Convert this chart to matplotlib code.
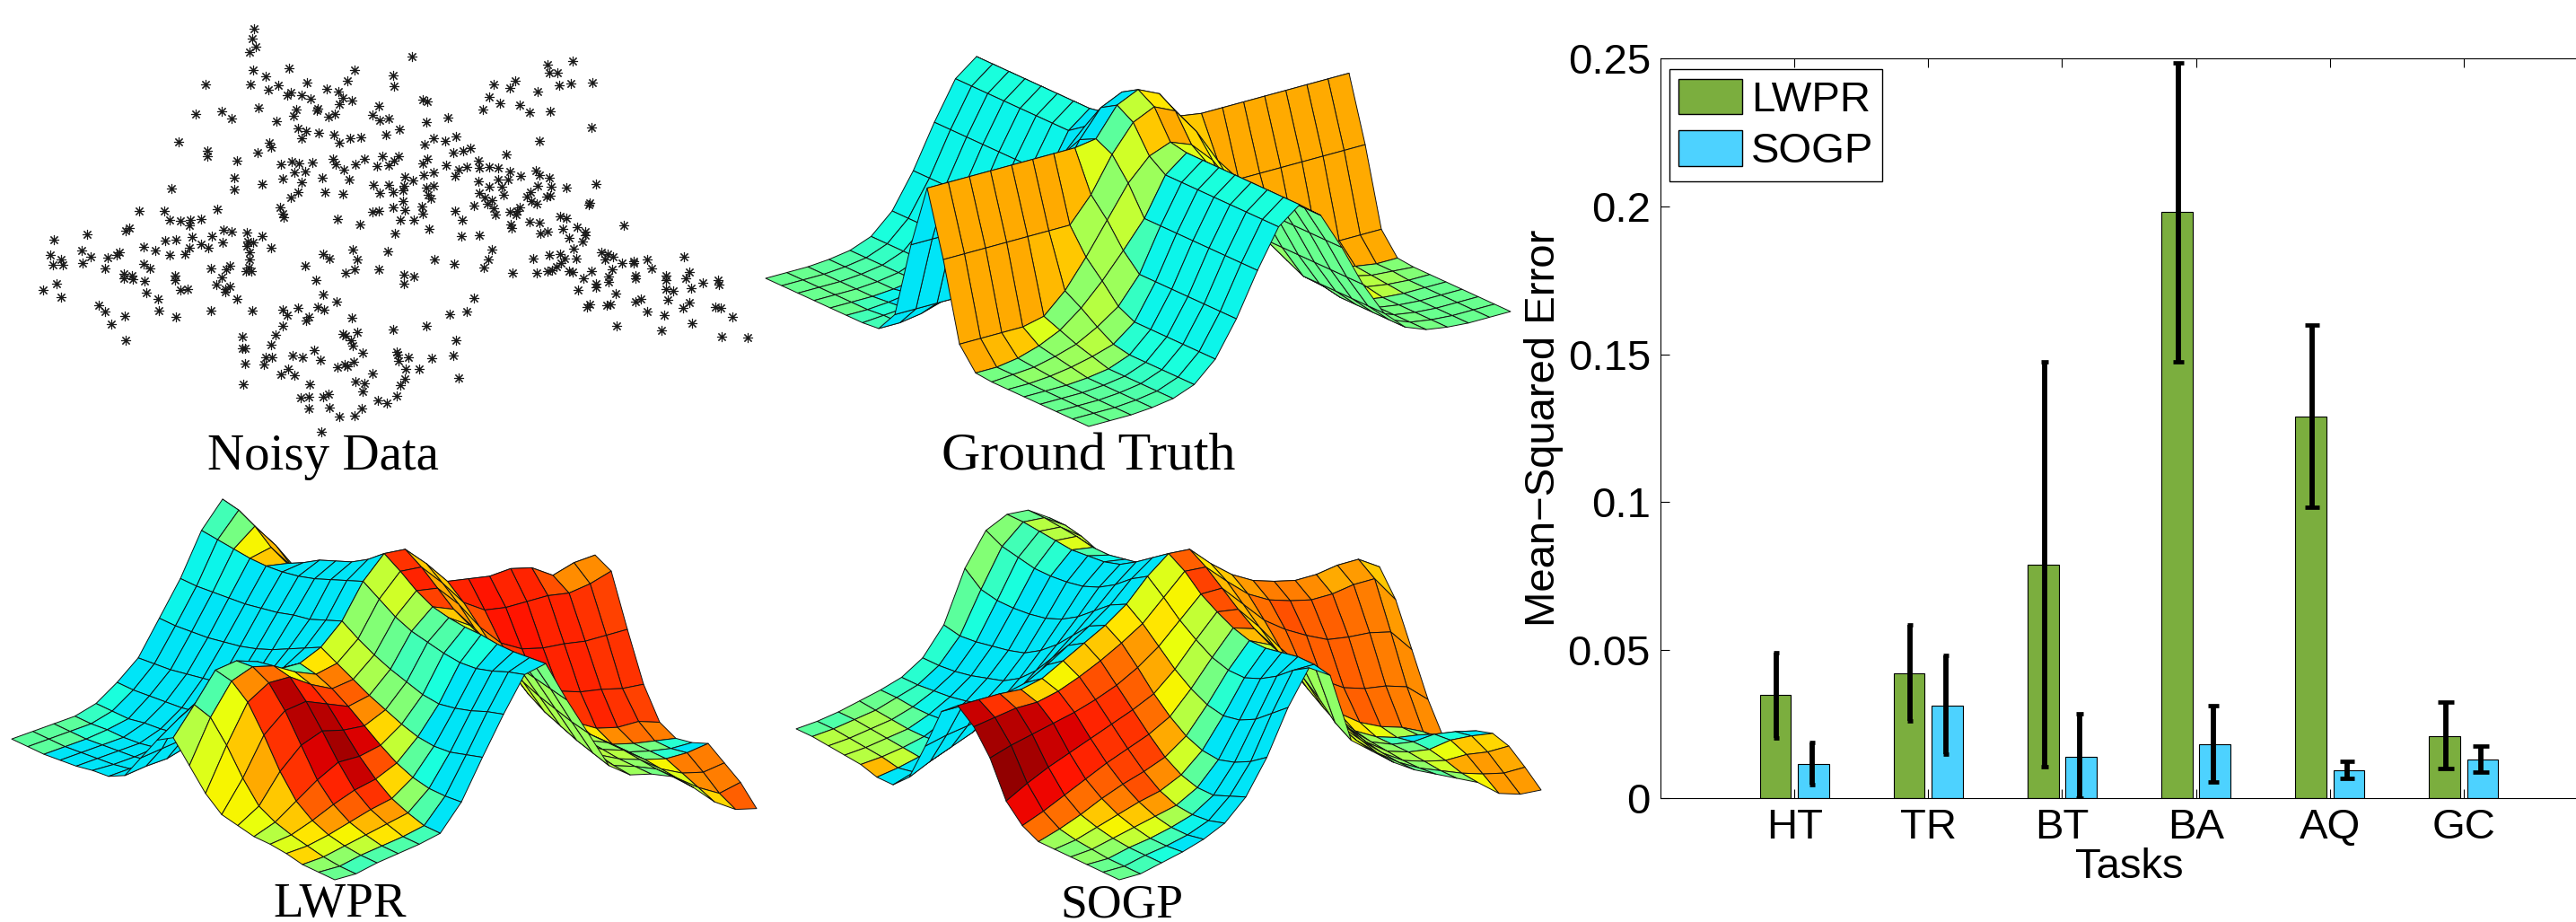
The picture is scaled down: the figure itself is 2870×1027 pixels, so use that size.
import numpy as np
import matplotlib
matplotlib.use('Agg')
import matplotlib.pyplot as plt
from matplotlib.collections import PolyCollection
from matplotlib.patches import Patch

# bar chart values
tasks = ['HT', 'TR', 'BT', 'BA', 'AQ', 'GC']
lwpr_mse = [0.0348, 0.0423, 0.0788, 0.198, 0.129, 0.021]
sogp_mse = [0.0115, 0.0314, 0.0139, 0.0183, 0.0095, 0.0131]
lwpr_low = [0.0204, 0.0262, 0.0105, 0.1475, 0.0983, 0.0099]
lwpr_high = [0.0492, 0.0586, 0.1473, 0.2484, 0.1598, 0.0324]
sogp_low = [0.0044, 0.0149, 0.0, 0.0056, 0.0068, 0.0087]
sogp_high = [0.0187, 0.0483, 0.0284, 0.0312, 0.0123, 0.0177]
cap_sizes = [2.2, 2.2, 3.0, 4.3, 6.0, 6.7]
y_ticks = [0, 0.05, 0.1, 0.15, 0.2, 0.25]
y_labels = ['0', '0.05', '0.1', '0.15', '0.2', '0.25']

# noisy samples
noisy_xy = [(516,92),(513,125),(519,152),(507,167),(836,184),(1164,198),(1112,210),(1115,235),(1133,235),(587,220),(515,226),(721,227),(798,245),(540,246),(1047,262),(706,260),(417,272),(508,272),(566,277),(624,267),(1002,272),(1035,285),(1136,276),(1159,270),(1203,267),(800,280),(545,289),(663,288),(687,295),(1093,296),(590,300),(583,308),(613,308),(631,320),(697,317),(715,326),(994,314),(1015,333),(858,323),(867,329),(690,338),(525,347),(1055,339),(645,350),(770,344),(981,355),(1075,362),(1117,360),(398,370),(451,360),(471,382),(602,353),(597,374),(644,358),(668,378),(680,368),(756,373),(771,390),(789,382),(909,381),(866,394),(562,392),(1202,413),(812,417),(605,415),(622,423),(647,430),(678,437),(612,448),(711,447),(733,445),(784,436),(881,447),(926,441),(905,457),(1095,455),(362,460),(547,463),(550,475),(689,462),(863,468),(422,488),(421,505),(524,493),(921,494),(941,489),(955,478),(1029,498),(482,521),(571,530),(593,524),(608,528),(635,525),(677,515),(682,530),(722,530),(740,515),(765,537),(777,506),(789,535),(800,520),(810,505),(868,513),(858,528),(971,520),(699,548),(598,558),(619,554),(575,578),(476,575),(655,574),(710,582),(906,535),(932,549),(948,540),(974,543),(994,540),(1012,543),(880,558),(860,567),(925,570),(822,572),(838,585),(1036,555),(1058,570),(1088,553),(1096,565),(1116,575),(1011,580),(1032,580),(972,588),(532,595),(613,590),(758,597),(790,598),(820,600),(880,600),(1092,602),(1120,605),(1151,608),(1210,595),(349,611),(476,613),(605,622),(660,620),(697,628),(772,624),(799,622),(819,617),(866,606),(993,605),(1020,605),(1078,620),(973,625),(1022,630),(1070,635),(1118,632),(1110,635),(590,640),(870,630),(875,642),(985,640),(1000,647),(819,650),(1080,650),(1197,657),(1196,663),(1090,660),(568,670),(441,676),(282,681),(333,681),(798,671),(857,668),(963,664),(990,660),(756,685),(769,682),(822,680),(924,682),(1002,675),(1036,685),(1050,682),(1056,672),(575,690),(576,702),(858,690),(1006,693),(1048,695),(685,708),(345,712),(367,715),(387,710),(409,708),(813,710),(840,712),(939,710),(1138,701),(1150,705),(1076,716),(1096,719),(732,727),(1037,725),(1267,730),(385,730),(263,737),(256,745),(871,739),(1039,737),(1172,735),(454,742),(470,750),(1144,741),(176,757),(502,752),(533,765),(802,756),(937,764),(973,761),(1098,755),(1113,750),(1188,748),(1188,760),(1156,770),(110,774),(391,767),(336,778),(358,774),(430,765),(503,780),(514,785),(1183,780),(452,783),(409,790),(502,795),(291,799),(384,801),(423,802),(550,800),(166,811),(315,810),(243,817),(375,822),(345,825),(716,807),(787,813),(1000,808),(1165,805),(1222,817),(1234,822),(1245,830),(1389,831),(102,826),(184,830),(218,833),(237,824),(507,815),(657,823),(669,835),(1116,824),(1138,822),(124,838),(725,840),(883,839),(992,838),(1083,837),(1146,835),(1171,835),(1228,840),(1288,846),(1314,838),(168,851),(108,858),(128,858),(292,855),(506,840),(620,860),(922,855),(1263,850),(1140,850),(1288,852),(214,868),(304,868),(429,869),(467,860),(460,872),(983,864),(770,870),(505,865),(720,872),(1323,869),(1243,870),(1130,862),(1091,882),(1112,878),(1122,875),(1156,878),(1164,880),(1202,878),(1041,882),(499,878),(510,878),(702,883),(251,885),(268,890),(1400,880),(820,888),(840,895),(1185,900),(1237,895),(1290,890),(1291,900),(1352,890),(1393,900),(1353,905),(270,903),(252,900),(355,890),(356,905),(450,897),(294,909),(642,907),(1458,905),(1237,912),(1428,916),(115,918),(820,918),(1210,918),(1461,920),(440,920),(458,935),(467,926),(1210,930),(1353,935),(1368,940),(1403,933),(88,938),(366,937),(381,936),(1175,938),(457,945),(298,948),(656,951),(1250,950),(124,960),(962,963),(321,967),(482,967),(1357,970),(1302,968),(1290,977),(684,977),(200,988),(1197,985),(1192,994),(1240,984),(1232,987),(1400,980),(605,995),(645,993),(1387,995),(1453,992),(1464,997),(214,1007),(323,1005),(429,1005),(513,1006),(575,1002),(658,1003),(948,1008),(1315,1008),(583,1020),(913,1017),(1350,1018),(1487,1024),(254,1023),(358,1025),(628,1025),(622,1037),(714,1029),(226,1047),(574,1054),(1406,1045),(1252,1055),(866,1055),(798,1067),(1344,1070),(726,1073),(560,1082),(697,1080),(702,1086),(492,1090),(1466,1088),(1518,1091),(255,1101),(927,1100),(712,1100),(498,1126),(492,1126),(550,1115),(716,1118),(639,1132),(806,1138),(808,1148),(737,1140),(921,1149),(595,1150),(614,1155),(539,1155),(552,1155),(830,1157),(877,1160),(651,1165),(809,1168),(718,1170),(497,1177),(536,1180),(700,1180),(685,1187),(706,1185),(825,1192),(851,1193),(585,1192),(570,1210),(598,1213),(757,1207),(931,1222),(822,1225),(722,1233),(740,1240),(814,1247),(494,1243),(629,1243),(737,1266),(806,1280),(611,1285),(628,1283),(657,1282),(667,1275),(767,1295),(785,1303),(735,1320),(628,1322),(669,1317),(689,1347),(721,1345),(652,1397)]

# surface heights, rows along the front-right edge, columns along the front-left edge
truth_z = np.array([
 [0,0,0,0,0,0,0,.01,.14,.61,1,.61,.14,.01,0,0,0,0,0,0,0],
 [0,0,0,0,0,0,.01,.01,.14,.61,1,.61,.14,.01,.01,0,0,0,0,0,0],
 [0,0,0,0,0,.01,.02,.03,.14,.61,1,.61,.14,.03,.02,.01,0,0,0,0,0],
 [.01,.01,.01,.01,.01,.03,.05,.07,.14,.61,1,.61,.14,.07,.05,.03,.01,.01,.01,.01,.01],
 [.03,.03,.03,.03,.03,.06,.09,.13,.17,.61,1,.61,.17,.13,.09,.06,.03,.03,.03,.03,.03],
 [.08,.08,.08,.08,.08,.1,.16,.23,.29,.61,1,.61,.29,.23,.16,.1,.08,.08,.08,.08,.08],
 [.2,.2,.2,.2,.2,.2,.25,.36,.46,.61,1,.61,.46,.36,.25,.2,.2,.2,.2,.2,.2],
 [.41,.41,.41,.41,.41,.41,.41,.51,.65,.76,1,.76,.65,.51,.41,.41,.41,.41,.41,.41,.41],
 [.67,.67,.67,.67,.67,.67,.67,.67,.84,.97,1.02,.97,.84,.67,.67,.67,.67,.67,.67,.67,.67],
 [.9,.9,.9,.9,.9,.9,.9,.9,.97,1.13,1.19,1.13,.97,.9,.9,.9,.9,.9,.9,.9,.9],
 [1,1,1,1,1,1,1,1,1.02,1.19,1.25,1.19,1.02,1,1,1,1,1,1,1,1],
 [.9,.9,.9,.9,.9,.9,.9,.9,.97,1.13,1.19,1.13,.97,.9,.9,.9,.9,.9,.9,.9,.9],
 [.67,.67,.67,.67,.67,.67,.67,.67,.84,.97,1.02,.97,.84,.67,.67,.67,.67,.67,.67,.67,.67],
 [.41,.41,.41,.41,.41,.41,.41,.51,.65,.76,1,.76,.65,.51,.41,.41,.41,.41,.41,.41,.41],
 [.2,.2,.2,.2,.2,.2,.25,.36,.46,.61,1,.61,.46,.36,.25,.2,.2,.2,.2,.2,.2],
 [.08,.08,.08,.08,.08,.1,.16,.23,.29,.61,1,.61,.29,.23,.16,.1,.08,.08,.08,.08,.08],
 [.03,.03,.03,.03,.03,.06,.09,.13,.17,.61,1,.61,.17,.13,.09,.06,.03,.03,.03,.03,.03],
 [.01,.01,.01,.01,.01,.03,.05,.07,.14,.61,1,.61,.14,.07,.05,.03,.01,.01,.01,.01,.01],
 [0,0,0,0,0,.01,.02,.03,.14,.61,1,.61,.14,.03,.02,.01,0,0,0,0,0],
 [0,0,0,0,0,0,.01,.01,.14,.61,1,.61,.14,.01,.01,0,0,0,0,0,0],
 [0,0,0,0,0,0,0,.01,.14,.61,1,.61,.14,.01,0,0,0,0,0,0,0]])

lwpr_z = np.array([
 [0,0,0,.02,.03,.03,.05,.07,.15,.27,.39,.33,.18,.03,-.02,-.03,-.05,-.06,-.07,-.07,-.07],
 [0,0,.01,.03,.05,.08,.13,.25,.4,.52,.55,.42,.2,.05,-.01,-.03,-.04,-.05,-.06,-.06,-.06],
 [.03,.03,.04,.06,.1,.17,.3,.47,.62,.7,.72,.5,.22,.06,0,-.02,-.03,-.04,-.05,-.05,-.05],
 [.05,.05,.07,.1,.16,.26,.42,.58,.7,.75,.74,.52,.25,.1,.03,0,-.02,-.03,-.03,-.04,-.04],
 [.07,.07,.1,.14,.21,.33,.47,.6,.7,.72,.7,.52,.3,.16,.08,.05,.03,.02,0,0,0],
 [.1,.1,.13,.17,.24,.33,.44,.55,.62,.65,.62,.5,.36,.25,.18,.14,.12,.11,.1,.09,.09],
 [.25,.24,.24,.26,.3,.36,.43,.5,.56,.6,.62,.55,.46,.38,.32,.28,.26,.24,.22,.21,.2],
 [.48,.45,.42,.41,.42,.45,.49,.53,.58,.63,.68,.63,.58,.53,.49,.46,.44,.42,.41,.4,.4],
 [.7,.67,.63,.6,.58,.59,.62,.65,.69,.74,.8,.76,.72,.7,.67,.65,.63,.62,.61,.6,.6],
 [.9,.87,.83,.8,.79,.8,.82,.84,.88,.94,1,.96,.92,.88,.85,.83,.82,.82,.83,.84,.85],
 [.93,.92,.91,.91,.92,.92,.93,.95,1,1.07,1.13,1.05,.99,.95,.91,.85,.8,.85,.93,.98,1],
 [.68,.7,.72,.74,.77,.8,.85,.9,.98,1.06,1.12,1.03,.9,.78,.7,.66,.66,.7,.78,.82,.85],
 [.45,.47,.5,.53,.57,.62,.68,.75,.85,.93,1,.9,.75,.6,.52,.5,.5,.55,.6,.65,.68],
 [.22,.25,.28,.32,.36,.42,.5,.58,.68,.78,.86,.75,.55,.38,.32,.3,.32,.36,.4,.46,.5],
 [.13,.14,.16,.18,.22,.26,.32,.42,.55,.7,.84,.68,.42,.25,.18,.17,.18,.2,.24,.28,.3],
 [.1,.1,.1,.11,.12,.14,.18,.3,.48,.68,.82,.62,.32,.15,.1,.08,.08,.1,.12,.14,.15],
 [.05,.05,.06,.07,.07,.07,.1,.24,.45,.68,.83,.6,.28,.09,.05,.03,.03,.04,.05,.05,.05],
 [-.05,-.04,-.03,-.02,-.02,-.02,.03,.2,.44,.68,.8,.58,.25,.06,0,-.01,-.01,-.01,0,0,0],
 [-.17,-.13,-.09,-.05,-.05,-.05,0,.18,.42,.66,.72,.52,.2,.03,-.03,-.04,-.04,-.04,-.05,-.05,-.05],
 [-.25,-.2,-.12,-.05,-.07,-.07,0,.15,.42,.68,.76,.55,.22,.03,-.04,-.06,-.07,-.08,-.09,-.1,-.1],
 [-.28,-.17,-.1,-.03,-.07,-.09,-.04,.14,.42,.72,.77,.5,.15,-.02,-.07,-.09,-.1,-.1,-.1,-.1,-.1]])

sogp_z = np.array([
 [0,0,0,0,0,0,.05,.15,.36,.5,.58,.5,.25,.02,-.07,-.07,-.04,-.03,-.02,-.01,-.01],
 [0,0,0,.01,.02,.04,.1,.22,.4,.52,.58,.5,.28,.08,-.03,-.05,-.03,-.02,-.01,0,0],
 [.03,.03,.03,.04,.06,.09,.16,.28,.43,.54,.58,.5,.3,.13,.02,-.02,-.01,0,.01,.02,.02],
 [.06,.05,.05,.07,.1,.15,.22,.33,.46,.54,.57,.5,.33,.18,.08,.03,.02,.02,.03,.04,.05],
 [.1,.08,.08,.1,.14,.2,.28,.38,.49,.57,.6,.53,.38,.25,.15,.1,.08,.07,.07,.08,.08],
 [.16,.13,.12,.13,.17,.24,.33,.43,.53,.62,.67,.6,.46,.34,.24,.19,.16,.14,.13,.12,.12],
 [.28,.24,.2,.2,.23,.29,.38,.48,.58,.68,.74,.68,.56,.44,.35,.29,.26,.23,.21,.2,.2],
 [.48,.41,.36,.33,.34,.38,.45,.54,.65,.75,.81,.76,.66,.56,.48,.42,.39,.37,.35,.34,.36],
 [.74,.66,.58,.53,.51,.53,.58,.65,.74,.83,.9,.85,.77,.69,.63,.59,.57,.56,.56,.58,.66],
 [.94,.88,.8,.74,.7,.7,.73,.79,.86,.95,1.03,.97,.89,.83,.79,.77,.76,.76,.78,.8,.85],
 [.86,.88,.88,.86,.84,.84,.87,.92,.98,1.07,1.13,1.06,.99,.93,.9,.89,.88,.89,.9,.91,.91],
 [.44,.5,.6,.68,.74,.78,.83,.9,.98,1.06,1.12,1.04,.96,.9,.88,.86,.86,.88,.89,.9,.9],
 [.34,.36,.4,.46,.53,.6,.68,.76,.85,.94,1,.93,.84,.78,.75,.74,.74,.76,.8,.82,.82],
 [.24,.25,.28,.32,.37,.43,.5,.6,.72,.83,.9,.82,.68,.58,.55,.53,.54,.56,.58,.6,.61],
 [.16,.16,.17,.19,.22,.26,.33,.46,.63,.76,.83,.74,.55,.4,.35,.33,.33,.36,.38,.4,.42],
 [.1,.09,.09,.1,.11,.13,.19,.34,.56,.72,.79,.67,.42,.24,.18,.16,.16,.18,.2,.22,.23],
 [.04,.04,.05,.06,.06,.06,.1,.26,.5,.69,.76,.62,.34,.13,.08,.06,.06,.07,.08,.09,.1],
 [-.02,-.01,.02,.04,.04,.02,.04,.22,.48,.69,.76,.6,.3,.08,.02,0,0,.01,.02,.03,.03],
 [-.12,-.05,.02,.06,.05,0,0,.2,.47,.71,.78,.6,.28,.05,-.02,-.03,-.03,-.02,-.02,-.01,-.01],
 [-.16,-.08,0,.05,.03,-.06,-.06,.16,.44,.71,.78,.59,.26,.02,-.04,-.05,-.05,-.05,-.04,-.04,-.04],
 [-.17,-.08,0,.03,0,-.1,-.14,.05,.3,.55,.7,.55,.22,0,-.06,-.07,-.07,-.06,-.06,-.06,-.06]])

W, H = 2870, 1027


def draw_surface(ax, z, front, vec_a, vec_b, z_scale, red_near, red_far):
    # oblique view, painted from the back corner to the front corner
    n = z.shape[0] - 1
    i, j = np.meshgrid(np.arange(n + 1), np.arange(n + 1), indexing='ij')
    sx = front[0] + vec_a[0] * i / n + vec_b[0] * j / n
    sy = front[1] + vec_a[1] * i / n + vec_b[1] * j / n - z_scale * z
    polys, shades = [], []
    for p in range(n - 1, -1, -1):
        for q in range(n - 1, -1, -1):
            polys.append([(sx[p, q], sy[p, q]), (sx[p + 1, q], sy[p + 1, q]),
                          (sx[p + 1, q + 1], sy[p + 1, q + 1]), (sx[p, q + 1], sy[p, q + 1])])
            da = (z[p + 1, q] + z[p + 1, q + 1] - z[p, q] - z[p, q + 1]) * n / 2
            db = (z[p, q + 1] + z[p + 1, q + 1] - z[p, q] - z[p + 1, q]) * n / 2
            norm = np.sqrt(da ** 2 + db ** 2 + 1)
            gain = red_near + (red_far - red_near) * p / n
            shades.append(0.41 - 0.06 * da / norm + gain * db / norm + 0.06 / norm)
    shades = np.clip(shades, 0.345, 1.0)
    pc = PolyCollection(polys, facecolors=plt.get_cmap('jet', 64)(shades), edgecolors='#111111', linewidths=0.7)
    ax.add_collection(pc)


fig = plt.figure(figsize=(W / 100, H / 100), dpi=100)

# full size axes for the surfaces and their captions
ax_bg = fig.add_axes([0, 0, 1, 1])
ax_bg.set_xlim(0, W)
ax_bg.set_ylim(H, 0)
ax_bg.axis('off')
draw_surface(ax_bg, truth_z, (1213, 475), (470, -128), (-360, -165), 183, 0.31, 0.31)
draw_surface(ax_bg, lwpr_z, (373, 980), (470, -132), (-360, -170), 188, 0.6, 0.42)
draw_surface(ax_bg, sogp_z, (1247, 980), (470, -132), (-360, -170), 188, 0.6, 0.33)

caption = dict(family='Liberation Serif', ha='center', va='baseline', color='black')
ax_bg.text(360, 523, 'Noisy Data', fontsize=41, **caption)
ax_bg.text(1213, 523, 'Ground Truth', fontsize=43, **caption)
ax_bg.text(379, 1021, 'LWPR', fontsize=39.5, **caption)
ax_bg.text(1250, 1021, 'SOGP', fontsize=38.5, **caption)

# noisy samples
ax_pts = fig.add_axes([0, 1 - 540 / H, 860 / W, 540 / H])
ax_pts.patch.set_alpha(0)
ax_pts.set_xlim(0, 1568)
ax_pts.set_ylim(1568, 0)
ax_pts.axis('off')
noisy_x, noisy_y = zip(*noisy_xy)
ax_pts.plot(noisy_x, noisy_y, ls='none', marker=(8, 2, 0), ms=8, mew=0.8, color='#1a1a1a')

# bar chart, runs off the right of the picture like the original
ax = fig.add_axes([1850 / W, 1 - 889 / H, 1044 / W, 824 / H])
ax.patch.set_alpha(0)
x = np.arange(1, len(tasks) + 1)
ax.bar(x - 0.142, lwpr_mse, 0.233, color='#7BAE3E', edgecolor='black', linewidth=0.8)
ax.bar(x + 0.142, sogp_mse, 0.233, color='#4DD2FF', edgecolor='black', linewidth=0.8)
for k in range(len(tasks)):
    ax.errorbar(x[k] - 0.133, lwpr_mse[k], yerr=[[lwpr_mse[k] - lwpr_low[k]], [lwpr_high[k] - lwpr_mse[k]]],
                color='black', lw=4.2, capsize=cap_sizes[k], capthick=3.4)
    ax.errorbar(x[k] + 0.13, sogp_mse[k], yerr=[[sogp_mse[k] - sogp_low[k]], [sogp_high[k] - sogp_mse[k]]],
                color='black', lw=4.2, capsize=cap_sizes[k], capthick=3.4)
ax.set_xlim(0, 7)
ax.set_ylim(0, 0.25)
ax.set_xticks(x)
ax.set_xticklabels(tasks)
ax.set_yticks(y_ticks)
ax.set_yticklabels(y_labels)
ax.tick_params(direction='in', top=True, right=True, length=7, width=0.8, labelsize=34, pad=8)
for t in ax.get_xticklabels() + ax.get_yticklabels():
    t.set_family('Liberation Sans')
ax.set_xlabel('Tasks', family='Liberation Sans', fontsize=34, labelpad=0)
ax.set_ylabel('Mean\u2212Squared Error', family='Liberation Sans', fontsize=34, labelpad=3)
ax.legend(handles=[Patch(facecolor='#7BAE3E', edgecolor='black', label='LWPR'),
                   Patch(facecolor='#4DD2FF', edgecolor='black', label='SOGP')],
          loc='upper left', bbox_to_anchor=(0.0096, 0.985), borderaxespad=0, fancybox=False, framealpha=1,
          edgecolor='black', prop={'family': 'Liberation Sans', 'size': 34}, handlelength=1.5, handleheight=0.9,
          handletextpad=0.2, borderpad=0.22, labelspacing=0.25)

fig.savefig('out.png', dpi=100)
